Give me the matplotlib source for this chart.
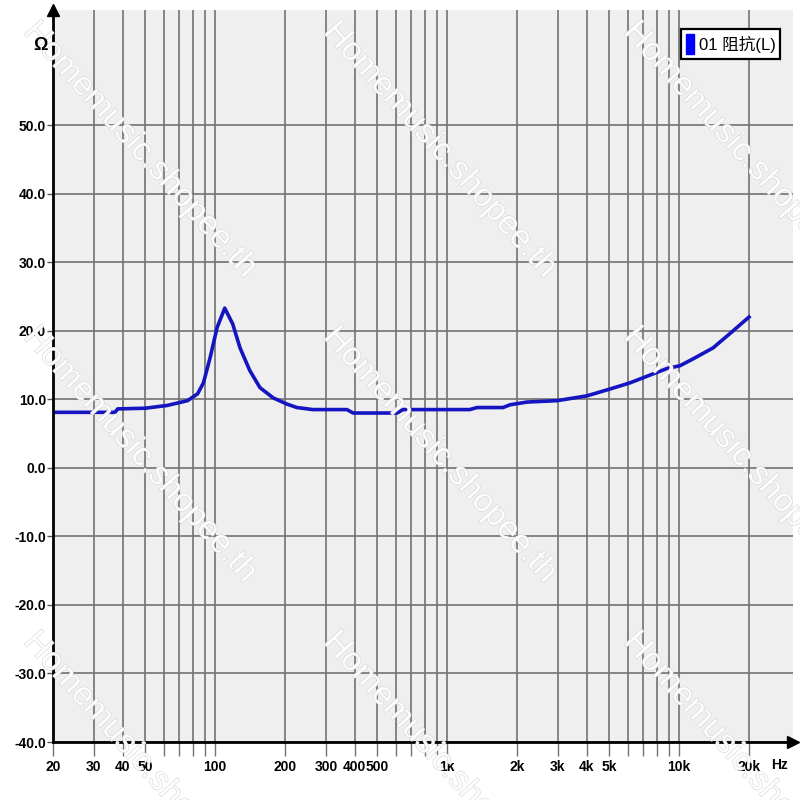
import matplotlib.pyplot as plt
from matplotlib.patches import Patch
import matplotlib.patheffects as pe

# ── Data ──────────────────────────────────────────────────────────────────────
freq_hz = [20, 37, 38, 50, 62, 76, 84, 89, 95, 102, 110, 119, 128, 141, 156,
           178, 204, 225, 264, 370, 393, 608, 645, 1250, 1346, 1742, 1866,
           2208, 2974, 4000, 5032, 6140, 7710, 8870, 10080, 11480, 14000,
           16560, 20000]
impedance = [8.1, 8.1, 8.6, 8.7, 9.1, 9.8, 10.8, 12.4, 16.0, 20.5, 23.3, 21.0,
             17.5, 14.2, 11.7, 10.2, 9.3, 8.8, 8.5, 8.5, 8.0, 8.0, 8.5, 8.5,
             8.8, 8.8, 9.2, 9.6, 9.8, 10.5, 11.5, 12.4, 13.7, 14.5, 14.9, 15.9,
             17.5, 19.6, 22.0]

grid_freqs = [20, 30, 40, 50, 60, 70, 80, 90, 100, 200, 300, 400, 500, 600,
              700, 800, 900, 1000, 2000, 3000, 4000, 5000, 6000, 7000, 8000,
              9000, 10000, 20000]
labelled = {20: "20", 30: "30", 40: "40", 50: "50", 100: "100", 200: "200",
            300: "300", 400: "400", 500: "500", 1000: "1k", 2000: "2k",
            3000: "3k", 4000: "4k", 5000: "5k", 10000: "10k", 20000: "20k"}
y_ticks = [50, 40, 30, 20, 10, 0, -10, -20, -30, -40]
series_name = "01 阻抗(L)"

plt.rcParams["font.family"] = ["Liberation Sans", "Noto Sans CJK SC", "DejaVu Sans"]

fig = plt.figure(figsize=(8, 8), dpi=100)
ax = fig.add_axes([53 / 800, 58 / 800, 740 / 800, 732 / 800])
ax.set_facecolor("#efefef")

ax.set_xscale("log")
ax.set_xlim(20, 30950)
ax.set_ylim(-40, 66.8)

# grid
for f in grid_freqs:
    ax.axvline(f, color="#727272", lw=1.2, zorder=1)
for v in y_ticks:
    ax.axhline(v, color="#727272", lw=1.2, zorder=1)

ax.plot(freq_hz, impedance, color="#1414c0", lw=2.6, zorder=3,
        solid_joinstyle="round")

# axes and ticks
for s in ["top", "right"]:
    ax.spines[s].set_visible(False)
for s in ["left", "bottom"]:
    ax.spines[s].set_linewidth(2)
    ax.spines[s].set_color("black")
    ax.spines[s].set_zorder(4)

ax.set_xticks(grid_freqs)
ax.set_xticklabels([labelled.get(f, "") for f in grid_freqs])
ax.xaxis.set_minor_locator(plt.NullLocator())
ax.tick_params(axis="x", length=10, width=1, color="#727272", pad=3,
               labelsize=10)
ax.set_yticks(y_ticks)
ax.set_yticklabels([f"{v:.1f}" for v in y_ticks])
ax.tick_params(axis="y", length=4, width=1, color="#555555", pad=1,
               labelsize=10)
for lbl in ax.get_xticklabels() + ax.get_yticklabels():
    lbl.set_fontweight("bold")

# axis arrows
ax.plot([0], [1], marker="^", color="black", ms=8, transform=ax.transAxes,
        clip_on=False, zorder=5)
ax.plot([1], [0], marker=">", color="black", ms=8, transform=ax.transAxes,
        clip_on=False, zorder=5)

leg = ax.legend(handles=[Patch(facecolor="#0000ff", edgecolor="#0000ff",
                               label=series_name)],
                loc="upper right", bbox_to_anchor=(0.983, 0.974),
                fancybox=False, framealpha=1, edgecolor="black",
                fontsize=12, handlelength=0.5, handleheight=1.5,
                handletextpad=0.25, borderpad=0.3, borderaxespad=0)
leg.get_frame().set_linewidth(1.6)
leg.set_zorder(6)

# watermark
for i in range(3):
    for j in range(3):
        fig.text((140 + 300 * i) / 800, 1 - (150 + 305 * j) / 800,
                 "Homemusic.shopee.th", fontsize=24, rotation=-48,
                 ha="center", va="center", color="white", alpha=0.85,
                 zorder=10,
                 path_effects=[pe.withStroke(linewidth=0.8,
                                             foreground="#d2d2d2")])

fig.text(40 / 800, 1 - 45 / 800, "Ω", fontsize=13, fontweight="bold",
         ha="center", va="center", zorder=11)
fig.text(780 / 800, 1 - 765 / 800, "Hz", fontsize=10, fontweight="bold",
         ha="center", va="center", zorder=11)

fig.savefig("out.png", dpi=100)
